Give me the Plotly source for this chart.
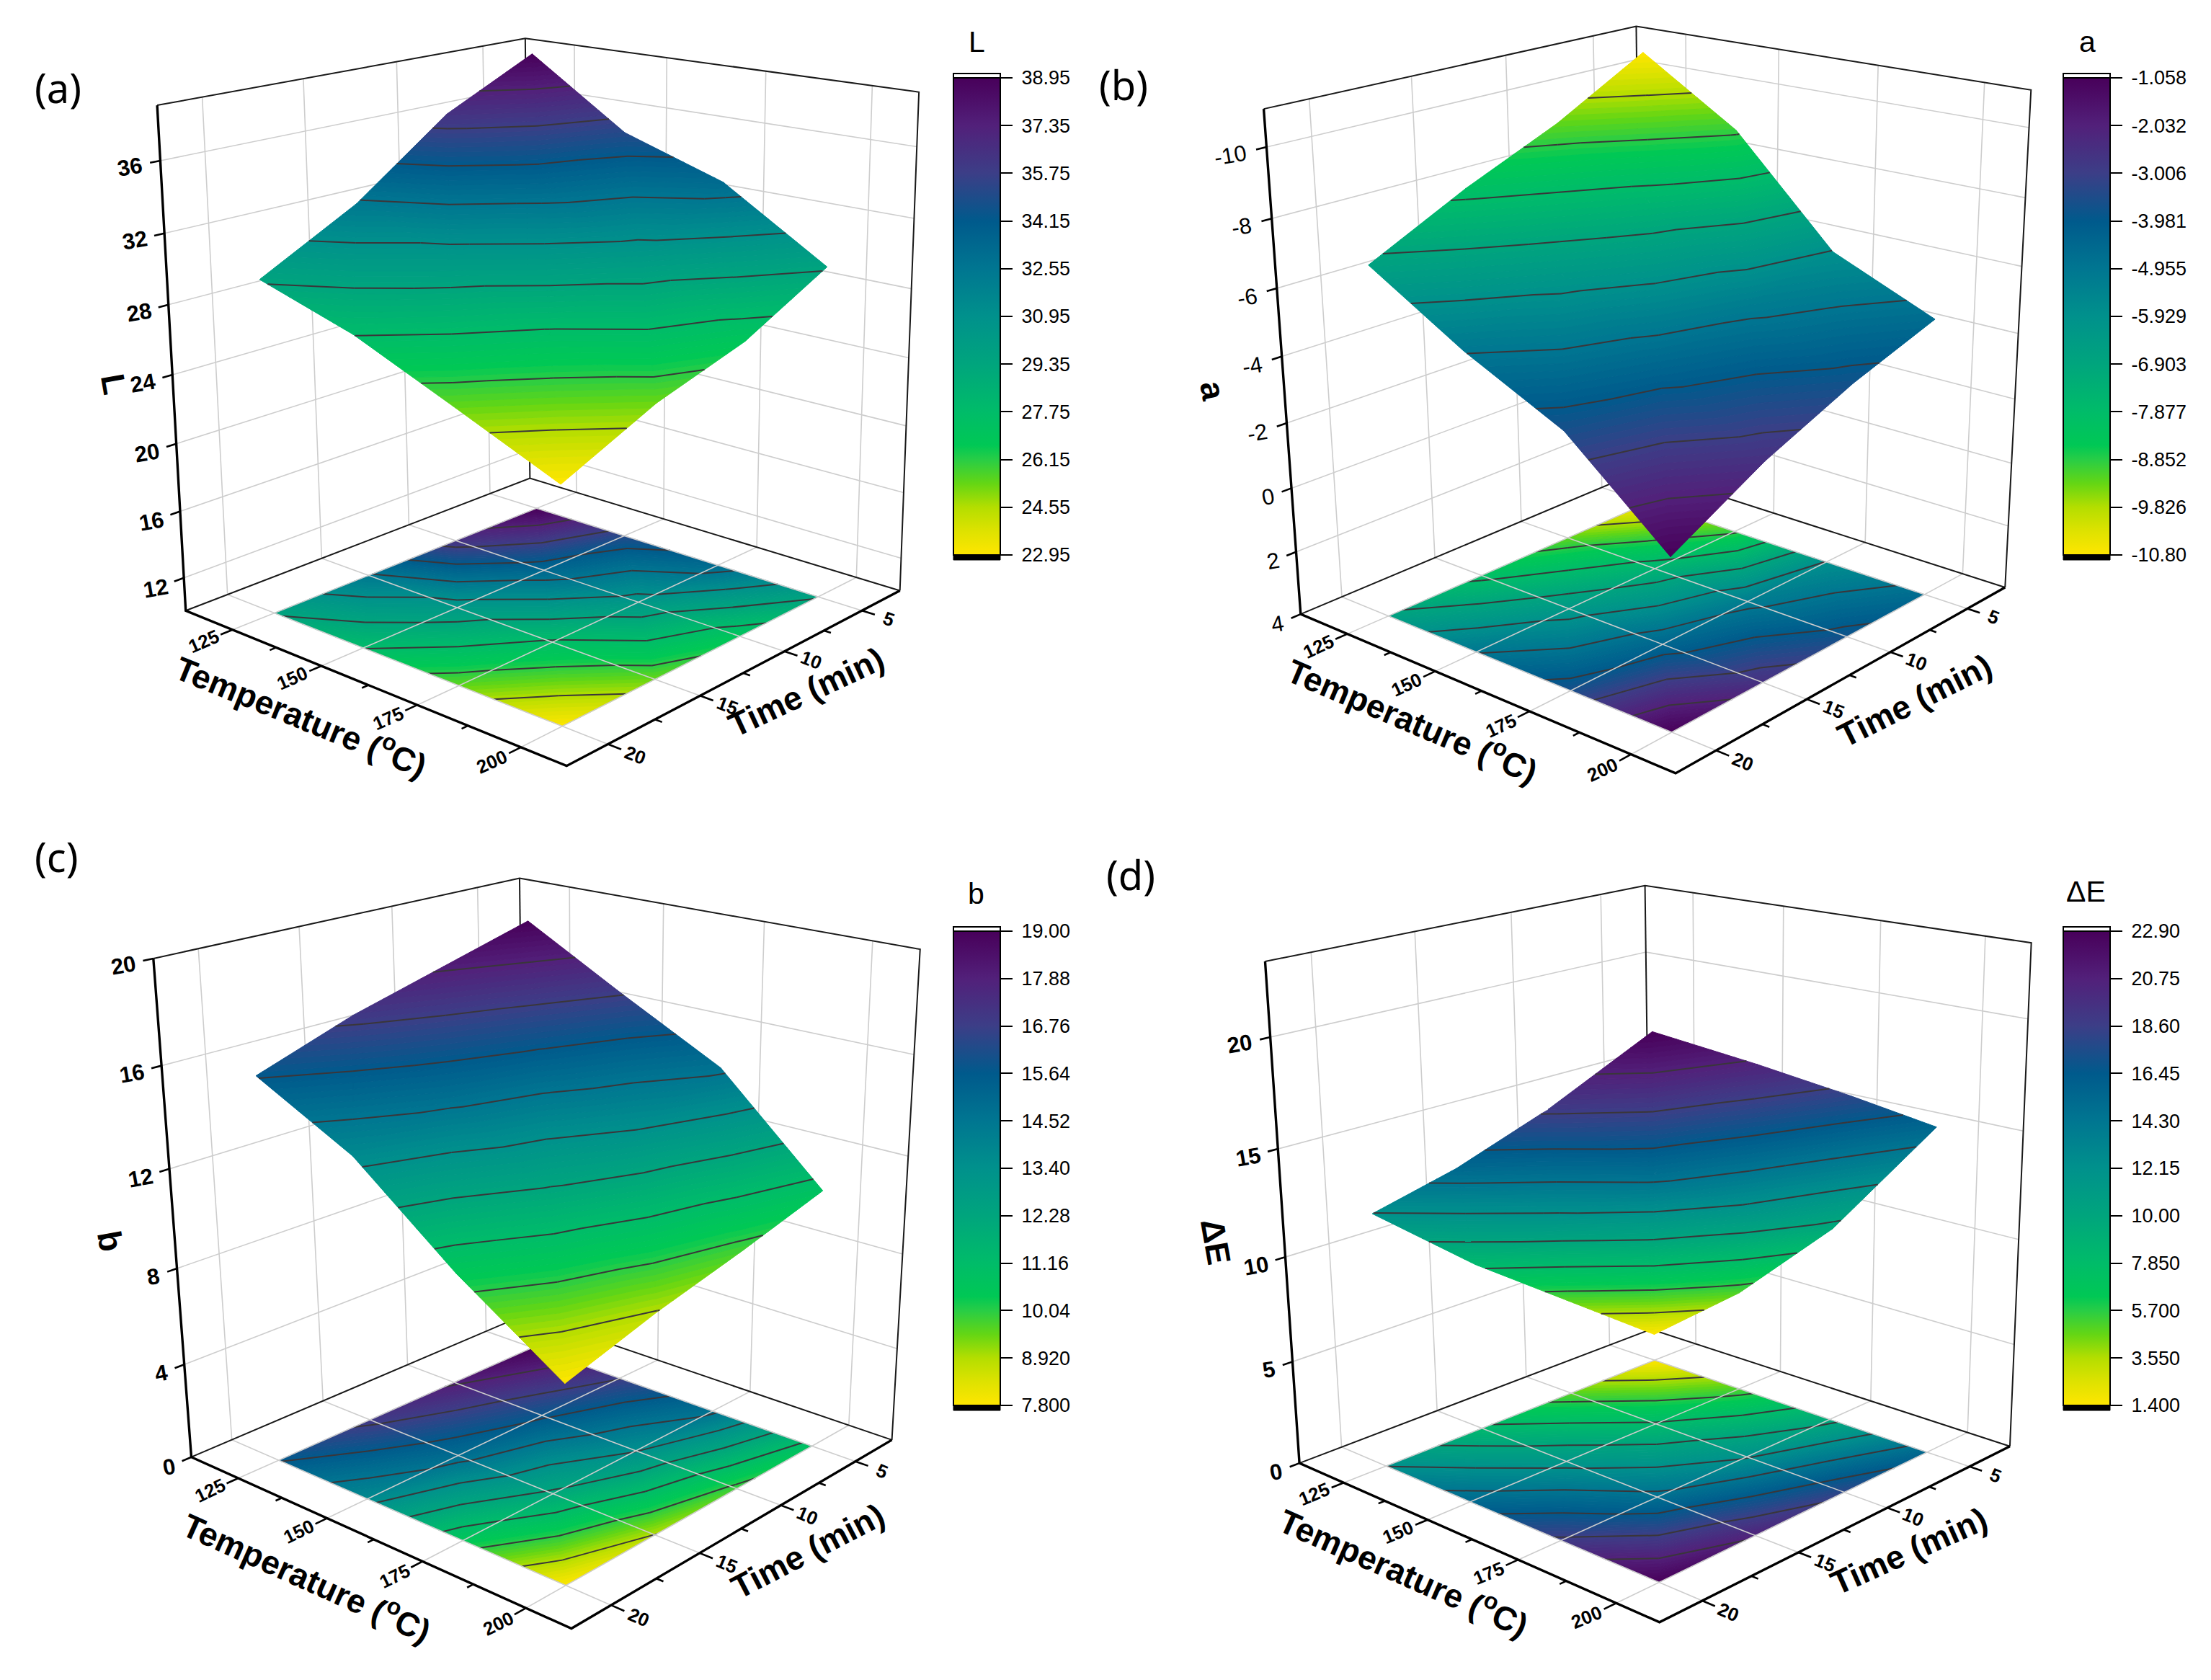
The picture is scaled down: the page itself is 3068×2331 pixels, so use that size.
import math
import numpy as np
import plotly.graph_objects as go

FIG_W, FIG_H = 3068, 2331
PAGE_MARGIN = 8  # the browser's default body margin shifts the figure by this many pixels

time_min = [5, 10, 15, 20]
temperature_c = [125, 150, 175, 200]

L_values = [[38.95, 36.4, 32.4, 29.5],
            [35.1, 33.4, 30.3, 27.8],
            [33.2, 30.4, 27.6, 25.4],
            [29.5, 26.9, 25.3, 22.95]]
a_values = [[-10.8, -9.3, -8.1, -6.7],
            [-8.95, -7.5, -6.3, -5.0],
            [-5.9, -5.2, -4.4, -3.6],
            [-4.6, -3.7, -2.55, -1.058]]
b_values = [[19.0, 18.0, 17.0, 15.7],
            [16.8, 15.8, 14.9, 13.7],
            [14.7, 13.45, 12.1, 10.5],
            [10.8, 9.8, 8.9, 7.8]]
dE_values = [[1.4, 4.8, 8.2, 12.1],
             [5.0, 8.0, 11.5, 15.3],
             [9.5, 12.0, 14.8, 18.9],
             [15.4, 18.0, 20.5, 22.9]]

L_ticks = ["38.95", "37.35", "35.75", "34.15", "32.55", "30.95", "29.35", "27.75", "26.15", "24.55", "22.95"]
a_ticks = ["-1.058", "-2.032", "-3.006", "-3.981", "-4.955", "-5.929", "-6.903", "-7.877", "-8.852", "-9.826", "-10.80"]
b_ticks = ["19.00", "17.88", "16.76", "15.64", "14.52", "13.40", "12.28", "11.16", "10.04", "8.920", "7.800"]
dE_ticks = ["22.90", "20.75", "18.60", "16.45", "14.30", "12.15", "10.00", "7.850", "5.700", "3.550", "1.400"]

COLOR_STOPS = [[0.0, (255, 230, 0)], [0.05, (222, 226, 0)], [0.1, (180, 222, 0)],
               [0.15, (100, 214, 20)], [0.2, (40, 205, 70)], [0.23, (0, 200, 85)],
               [0.3, (0, 188, 105)], [0.4, (0, 165, 125)], [0.5, (0, 145, 140)],
               [0.6, (0, 118, 145)], [0.7, (0, 90, 140)], [0.8, (60, 62, 135)],
               [0.9, (82, 32, 122)], [1.0, (72, 0, 90)]]
COLORSCALE = [[s, "rgb(%d,%d,%d)" % c] for s, c in COLOR_STOPS]

TIME_RANGE = (2.4, 22.1)
TEMP_RANGE = (111.0, 210.4)
N_BANDS = 80
CB_THICK = 65
GRID = "rgb(205,205,205)"
LINE_C = "rgb(58,54,58)"
FAM = "Liberation Sans"


def color_at(f):
    for (s0, c0), (s1, c1) in zip(COLOR_STOPS, COLOR_STOPS[1:]):
        if f <= s1:
            k = (f - s0) / (s1 - s0)
            return "rgb(%d,%d,%d)" % tuple(round(a + (b - a) * k) for a, b in zip(c0, c1))
    return COLORSCALE[-1][1]


panels = [
    dict(tag="(a)", name="L", z=L_values, ticks=L_ticks, zr=(10.0, 39.0), ztv=[12, 16, 20, 24, 28, 32, 36], bold=True,
         corners=dict(lb=(258, 847), lt=(218, 146), bb=(735, 664), bt=(729, 53), rb=(1249, 819), rt=(1275, 128), fb=(786, 1063)),
         cbx=1323, cby=108, cblen=662, tagxy=(80, 121), cbt=(1355, 58), ztitle=(158, 533),
         temp_title=(419, 992), time_title=(1119, 960)),
    dict(tag="(b)", name="a", z=a_values, ticks=a_ticks, zr=(4.0, -11.05), ztv=[-10, -8, -6, -4, -2, 0, 2, 4], bold=False,
         corners=dict(lb=(1808, 847), lt=(1753, 151), bb=(2274, 661), bt=(2272, 33), rb=(2786, 806), rt=(2817, 129), fb=(2322, 1079)),
         cbx=2863, cby=108, cblen=662, tagxy=(1559, 117), cbt=(2896, 58), ztitle=(1683, 542),
         temp_title=(1961, 998), time_title=(2657, 972)),
    dict(tag="(c)", name="b", z=b_values, ticks=b_ticks, zr=(0.0, 20.0), ztv=[0, 4, 8, 12, 16, 20], bold=True,
         corners=dict(lb=(260, 2015), lt=(215, 1334), bb=(734, 1829), bt=(718, 1216), rb=(1233, 1996), rt=(1278, 1316), fb=(797, 2263)),
         cbx=1323, cby=1292, cblen=658, tagxy=(78, 1188), cbt=(1354, 1240), ztitle=(153, 1722),
         temp_title=(427, 2187), time_title=(1121, 2152)),
    dict(tag="(d)", name="ΔE", z=dE_values, ticks=dE_ticks, zr=(0.0, 23.3), ztv=[0, 5, 10, 15, 20], bold=True,
         corners=dict(lb=(1806, 2029), lt=(1753, 1334), bb=(2286, 1846), bt=(2287, 1228), rb=(2792, 2005), rt=(2816, 1309), fb=(2302, 2252)),
         cbx=2863, cby=1292, cblen=658, tagxy=(1569, 1213), cbt=(2894, 1237), ztitle=(1687, 1723),
         temp_title=(1949, 2180), time_title=(2649, 2152)),
]

CUBE = dict(lb=(1, 0, 0), lt=(1, 0, 1), bb=(0, 0, 0), bt=(0, 0, 1), rb=(0, 1, 0), rt=(0, 1, 1), fb=(1, 1, 0))


def fit_projection(corners):
    rows = []
    for key, (x, y) in corners.items():
        X = list(CUBE[key]) + [1.0]
        x, y = x / 1000.0, y / 1000.0
        rows.append(X + [0, 0, 0, 0] + [-x * c for c in X])
        rows.append([0, 0, 0, 0] + X + [-y * c for c in X])
    _, _, vt = np.linalg.svd(np.array(rows, dtype=float))
    return vt[-1].reshape(3, 4)


fig = go.Figure()
shapes, annotations = [], []


def add_lines(segments, color, width):
    xs, ys = [], []
    for seg in segments:
        xs += [q[0] for q in seg] + [None]
        ys += [q[1] for q in seg] + [None]
    fig.add_trace(go.Scatter(x=xs, y=ys, mode="lines", line=dict(color=color, width=width),
                             hoverinfo="skip", showlegend=False))


def clip(poly, level, keep_above):
    out = []
    n = len(poly)
    for i in range(n):
        p, q = poly[i], poly[(i + 1) % n]
        pin = p[2] >= level if keep_above else p[2] <= level
        qin = q[2] >= level if keep_above else q[2] <= level
        if pin:
            out.append(p)
        if pin != qin:
            k = (level - p[2]) / (q[2] - p[2])
            out.append(tuple(a + (b - a) * k for a, b in zip(p, q)))
    return out


for p in panels:
    P = fit_projection(p["corners"])
    z_lo, z_hi = p["zr"]

    def cube_xy(u, v, w):
        h = P @ np.array([u, v, w, 1.0])
        return (1000.0 * h[0] / h[2], 1000.0 * h[1] / h[2])

    def uv(t, T):
        return ((t - TIME_RANGE[0]) / (TIME_RANGE[1] - TIME_RANGE[0]),
                (T - TEMP_RANGE[0]) / (TEMP_RANGE[1] - TEMP_RANGE[0]))

    def wz(z):
        return (z - z_lo) / (z_hi - z_lo)

    def world_xy(t, T, z):
        u, v = uv(t, T)
        return cube_xy(u, v, wz(z))

    def angle(a, b):
        qa, qb = cube_xy(*a), cube_xy(*b)
        return math.degrees(math.atan2(qb[1] - qa[1], qb[0] - qa[0]))

    vals = [float(t) for t in p["ticks"]]
    cmax, cmin = vals[0], vals[-1]
    triangles = []
    for i in range(len(temperature_c) - 1):
        for j in range(len(time_min) - 1):
            a = (time_min[j], temperature_c[i], p["z"][i][j])
            b = (time_min[j + 1], temperature_c[i], p["z"][i][j + 1])
            c = (time_min[j + 1], temperature_c[i + 1], p["z"][i + 1][j + 1])
            d = (time_min[j], temperature_c[i + 1], p["z"][i + 1][j])
            triangles += [(a, b, c), (a, c, d)]

    band_polys = [[] for _ in range(N_BANDS)]
    edges = [cmin + (cmax - cmin) * k / N_BANDS for k in range(N_BANDS + 1)]
    for tri in triangles:
        for k in range(N_BANDS):
            poly = clip(clip(list(tri), edges[k], True), edges[k + 1], False)
            if len(poly) >= 3:
                band_polys[k].append(poly)

    def add_bands(to_xy):
        for k, polys in enumerate(band_polys):
            if not polys:
                continue
            xs, ys = [], []
            for poly in polys:
                pts = [to_xy(q) for q in poly]
                pts.append(pts[0])
                xs += [q[0] for q in pts] + [None]
                ys += [q[1] for q in pts] + [None]
            col = color_at((k + 0.5) / N_BANDS)
            fig.add_trace(go.Scatter(x=xs, y=ys, mode="lines", fill="toself", fillcolor=col,
                                     line=dict(color=col, width=1), hoverinfo="skip", showlegend=False))

    level_segments = []
    for tri in triangles:
        for lev in vals[1:-1]:
            pts = []
            for m in range(3):
                q, r = tri[m], tri[(m + 1) % 3]
                if (q[2] - lev) * (r[2] - lev) < 0:
                    k = (lev - q[2]) / (r[2] - q[2])
                    pts.append((q[0] + (r[0] - q[0]) * k, q[1] + (r[1] - q[1]) * k, lev))
            if len(pts) == 2:
                level_segments.append(pts)

    # floor projection
    add_bands(lambda q: cube_xy(*uv(q[0], q[1]), 0.0))
    add_lines([[cube_xy(*uv(q[0], q[1]), 0.0) for q in s] for s in level_segments], LINE_C, 2)

    # grid
    grid = []
    for t in time_min:
        u, _ = uv(t, temperature_c[0])
        grid.append([cube_xy(u, 1, 0), cube_xy(u, 0, 0), cube_xy(u, 0, 1)])
    for T in temperature_c:
        _, v = uv(time_min[0], T)
        grid.append([cube_xy(1, v, 0), cube_xy(0, v, 0), cube_xy(0, v, 1)])
    for z in p["ztv"]:
        if 0.001 < wz(z) < 0.999:
            grid.append([cube_xy(1, 0, wz(z)), cube_xy(0, 0, wz(z)), cube_xy(0, 1, wz(z))])
    add_lines(grid, GRID, 1.6)

    # frame
    add_lines([[cube_xy(1, 0, 1), cube_xy(0, 0, 1), cube_xy(0, 1, 1), cube_xy(0, 1, 0)],
               [cube_xy(0, 0, 1), cube_xy(0, 0, 0)],
               [cube_xy(1, 0, 0), cube_xy(0, 0, 0), cube_xy(0, 1, 0)]], "rgb(25,25,25)", 2)
    add_lines([[cube_xy(1, 0, 1), cube_xy(1, 0, 0), cube_xy(1, 1, 0), cube_xy(0, 1, 0)]], "black", 3.4)

    # ticks and labels
    ticks = []
    t_label_angle = angle((1, 1, 0), (0, 1, 0)) * 0.85
    T_label_angle = angle((1, 0, 0), (1, 1, 0)) * 0.95
    for k in range(len(temperature_c)):
        T = temperature_c[k]
        _, v = uv(time_min[0], T)
        ticks.append([cube_xy(1, v, 0), cube_xy(1.03, v, 0)])
        x, y = cube_xy(1.072, v, 0)
        annotations.append(dict(x=x, y=y, xref="x", yref="y", text="<b>%d</b>" % T, showarrow=False,
                                textangle=t_label_angle, font=dict(family=FAM, size=26, color="black")))
        if k < len(temperature_c) - 1:
            _, vm = uv(time_min[0], (T + temperature_c[k + 1]) / 2)
            ticks.append([cube_xy(1, vm, 0), cube_xy(1.016, vm, 0)])
    for k in range(len(time_min)):
        t = time_min[k]
        u, _ = uv(t, temperature_c[0])
        ticks.append([cube_xy(u, 1, 0), cube_xy(u, 1.03, 0)])
        x, y = cube_xy(u, 1.062, 0)
        annotations.append(dict(x=x, y=y, xref="x", yref="y", text="<b>%d</b>" % t, showarrow=False,
                                textangle=T_label_angle, font=dict(family=FAM, size=26, color="black")))
        if k < len(time_min) - 1:
            um, _ = uv((t + time_min[k + 1]) / 2, temperature_c[0])
            ticks.append([cube_xy(um, 1, 0), cube_xy(um, 1.016, 0)])
    for z in p["ztv"]:
        w = wz(z)
        ticks.append([cube_xy(1, 0, w), cube_xy(1.024, 0, w)])
        s = str(z)
        x, y = cube_xy(1.07 + 0.012 * (len(s) - 2), 0, w)
        annotations.append(dict(x=x, y=y, xref="x", yref="y", text=("<b>%s</b>" % s) if p["bold"] else s,
                                showarrow=False, textangle=-10, font=dict(family=FAM, size=31, color="black")))
    add_lines(ticks, "black", 2.6)

    # axis titles
    x, y = p["temp_title"]
    annotations.append(dict(x=x, y=y, xref="x", yref="y", text="<b>Temperature (<sup>o</sup>C)</b>", showarrow=False,
                            textangle=angle((1, 0, 0), (1, 1, 0)), font=dict(family=FAM, size=46, color="black")))
    x, y = p["time_title"]
    annotations.append(dict(x=x, y=y, xref="x", yref="y", text="<b>Time (min)</b>", showarrow=False,
                            textangle=angle((1, 1, 0), (0, 1, 0)) * 0.9, font=dict(family=FAM, size=46, color="black")))
    annotations.append(dict(x=p["ztitle"][0], y=p["ztitle"][1], xref="x", yref="y", text="<b>%s</b>" % p["name"],
                            showarrow=False, textangle=80, font=dict(family=FAM, size=46, color="black")))

    # surface on top
    add_bands(lambda q: world_xy(q[0], q[1], q[2]))
    add_lines([[world_xy(*q) for q in s] for s in level_segments], LINE_C, 2)

    # colorbar from a real colour-mapped trace placed outside the visible range
    fig.add_trace(go.Scatter(
        x=[-500], y=[-500], mode="markers", hoverinfo="skip", showlegend=False,
        marker=dict(color=[cmin], cmin=cmin, cmax=cmax, colorscale=COLORSCALE, showscale=True,
                    colorbar=dict(x=(p["cbx"] - PAGE_MARGIN) / FIG_W, xanchor="left", xpad=0, ypad=0,
                                  y=1 - (p["cby"] - PAGE_MARGIN) / FIG_H, yanchor="top",
                                  thicknessmode="pixels", thickness=CB_THICK,
                                  lenmode="pixels", len=p["cblen"],
                                  outlinecolor="black", outlinewidth=2, borderwidth=0,
                                  ticks="outside", ticklen=16, tickwidth=2, tickcolor="black",
                                  tickvals=vals, ticktext=["\u00a0" + t for t in p["ticks"]],
                                  tickfont=dict(family=FAM, size=27, color="black")))))

    x0, x1 = p["cbx"], p["cbx"] + CB_THICK
    top, bot = p["cby"], p["cby"] + p["cblen"]
    shapes.append(dict(type="rect", xref="x", yref="y", x0=x0, x1=x1, y0=top - 6, y1=top,
                       fillcolor="white", line=dict(color="black", width=2)))
    shapes.append(dict(type="rect", xref="x", yref="y", x0=x0, x1=x1, y0=bot, y1=bot + 7,
                       fillcolor="black", line=dict(color="black", width=1)))
    annotations.append(dict(x=p["tagxy"][0], y=p["tagxy"][1], xref="x", yref="y", text=p["tag"], showarrow=False,
                            font=dict(family="Noto Sans", size=56, color="black")))
    annotations.append(dict(x=p["cbt"][0], y=p["cbt"][1], xref="x", yref="y", text=p["name"], showarrow=False,
                            font=dict(family=FAM, size=41, color="black")))

fig.update_layout(
    width=FIG_W, height=FIG_H, margin=dict(l=0, r=0, t=0, b=0, autoexpand=False),
    paper_bgcolor="white", plot_bgcolor="white", showlegend=False,
    xaxis=dict(range=[PAGE_MARGIN, FIG_W + PAGE_MARGIN], visible=False, fixedrange=True),
    yaxis=dict(range=[FIG_H + PAGE_MARGIN, PAGE_MARGIN], visible=False, fixedrange=True),
    shapes=shapes, annotations=annotations)
fig.write_html("out.html")
